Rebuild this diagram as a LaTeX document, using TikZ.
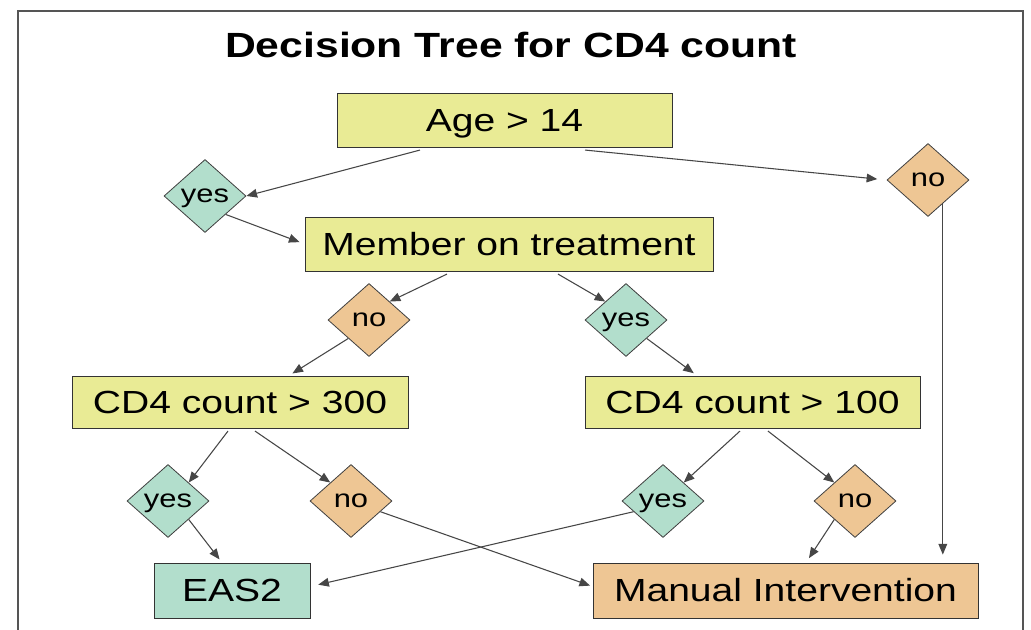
\documentclass[tikz,border=0pt]{standalone}
\usepackage{fontspec}
\setmainfont{Liberation Sans}[FakeStretch=1.22]
\usetikzlibrary{shapes.geometric,arrows.meta}
\definecolor{boxyellow}{RGB}{233,235,149}
\definecolor{boxgreen}{RGB}{178,222,204}
\definecolor{boxorange}{RGB}{238,198,148}
\definecolor{framegray}{RGB}{85,85,85}
\definecolor{linegray}{RGB}{70,70,70}
\begin{document}
\begin{tikzpicture}[x=0.75pt,y=-0.75pt,
  testbox/.style={draw=black!80,line width=0.6pt,inner sep=0pt,text height=17.2pt,text depth=0pt,
    font=\fontsize{24pt}{28pt}\selectfont},
  question/.style={testbox,fill=boxyellow,minimum height=40.5pt},
  answer/.style={draw=black!75,line width=0.6pt,diamond,inner sep=0pt,minimum width=61.5pt,minimum height=54.75pt,
    text height=9.9pt,text depth=0pt,font=\fontsize{19pt}{22pt}\selectfont},
  yesbox/.style={answer,fill=boxgreen},
  nobox/.style={answer,fill=boxorange},
  link/.style={draw=linegray,line width=0.8pt,-{Triangle[length=8pt,width=6.5pt]}}]
\useasboundingbox (0,0) rectangle (1031,630);
\draw[framegray,line width=1.1pt] (18,640) -- (18,11) -- (1023,11) -- (1023,640);

\node[font=\bfseries\fontsize{26.25pt}{30pt}\selectfont,text height=18.8pt,text depth=0pt,inner sep=0pt] (title) at (511,45) {Decision Tree for CD4 count};

% questions
\node[question,minimum width=251.25pt] (age) at (504.5,120) {Age > 14};
\node[question,minimum width=306pt] (member) at (509,244) {Member on treatment};
\node[question,minimum width=252pt,minimum height=39pt] (cd300) at (240,402) {CD4 count > 300};
\node[question,minimum width=251.25pt,minimum height=39pt] (cd100) at (752.5,402) {CD4 count > 100};

% answers
\node[yesbox] (yes1) at (205,196) {yes};
\node[nobox] (no1) at (928,180) {no};
\node[nobox] (no2) at (369,320) {no};
\node[yesbox] (yes2) at (626,320) {yes};
\node[yesbox] (yes3) at (168,501) {yes};
\node[nobox] (no3) at (351,501) {no};
\node[yesbox] (yes4) at (663,501) {yes};
\node[nobox] (no4) at (855,501) {no};

% outcomes
\node[testbox,fill=boxgreen,minimum width=117pt,minimum height=41.25pt] (eas2) at (232,590.5) {EAS2};
\node[testbox,fill=boxorange,minimum width=288.75pt,minimum height=41.25pt] (manual) at (785.5,590.5) {Manual Intervention};

\draw[link] ([xshift=-63.4pt,yshift=-2pt]age.south) -- (yes1.east);
\draw[link,shorten >=7pt] ([xshift=60.4pt,yshift=-2pt]age.south) -- (no1.west);
\draw[link,shorten >=4pt] (yes1.south east) -- (member.west);
\draw[link,shorten >=6pt] (no1.-58) -- (no1.-58 |- manual.north);

\draw[link] ([xshift=-46.5pt,yshift=-2pt]member.south) -- (no2.north east);
\draw[link] ([xshift=36.75pt,yshift=-2pt]member.south) -- (yes2.north west);
\draw[link,shorten >=3pt] (no2.south west) -- ([xshift=36.75pt]cd300.north);
\draw[link,shorten >=3pt] (yes2.south east) -- ([xshift=-41.6pt]cd100.north);

\draw[link] ([xshift=-9pt,yshift=-2pt]cd300.south) -- (yes3.north east);
\draw[link] ([xshift=11.25pt,yshift=-2pt]cd300.south) -- (no3.north west);
\draw[link] ([xshift=-9.4pt,yshift=-2pt]cd100.south) -- (yes4.north east);
\draw[link] ([xshift=11.6pt,yshift=-2pt]cd100.south) -- (no4.north west);

\draw[link,shorten >=3pt] (yes3.south east) -- ([xshift=-7.5pt]eas2.north);
\draw[link,shorten >=2pt] (no3.-20) -- ([yshift=3pt]manual.west);
\draw[link,shorten >=6pt] (yes4.200) -- ([yshift=3pt]eas2.east);
\draw[link,shorten >=4pt] (no4.south west) -- ([xshift=15.4pt]manual.north);
\end{tikzpicture}
\end{document}
